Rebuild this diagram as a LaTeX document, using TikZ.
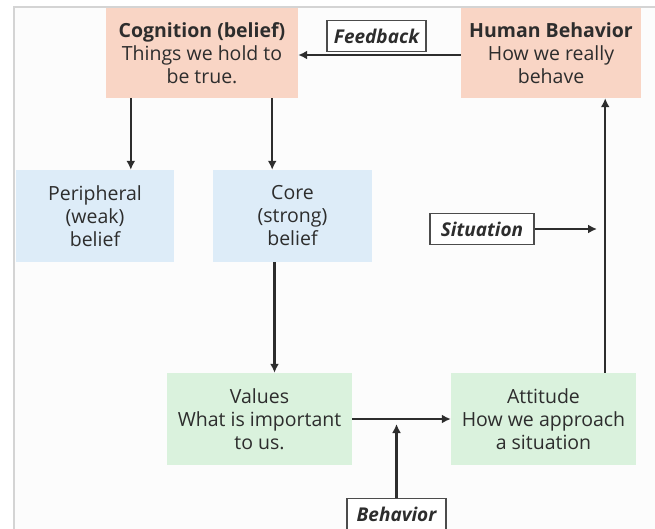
\documentclass[tikz,border=0pt]{standalone}
\usepackage{fontspec}
\setmainfont{Open Sans}
\usepackage{xcolor}
\definecolor{peach}{RGB}{249,213,197}
\definecolor{paleblue}{RGB}{221,236,248}
\definecolor{palegreen}{RGB}{218,242,221}
\definecolor{ink}{RGB}{45,45,45}
\definecolor{framegray}{RGB}{212,212,212}
\definecolor{paper}{RGB}{252,252,252}
\usetikzlibrary{arrows.meta}

\begin{document}
\begin{tikzpicture}[x=1pt, y=-1pt,
    box/.style={align=center, text=ink, inner sep=0pt, font=\fontsize{19.5}{23}\selectfont},
    peachbox/.style={box, fill=peach, minimum height=90pt},
    bluebox/.style={box, fill=paleblue, minimum width=158pt, minimum height=92pt},
    greenbox/.style={box, fill=palegreen, minimum width=185pt, minimum height=92pt},
    tag/.style={draw=ink!85, fill=white, line width=1.4pt, text=ink, inner sep=0pt, minimum width=99pt, minimum height=31pt, font=\fontsize{19}{21}\selectfont\bfseries\itshape},
    arr/.style={draw=ink, line width=2.1pt, -{Latex[length=9pt,width=9pt]}}]
            \useasboundingbox (0,0) rectangle (655,529);
            % Page frame
            \fill[white] (0,0) rectangle (655,529);
            \fill[paper] (14,7) rectangle (655,529);
            \draw[framegray, line width=2pt] (14,529) -- (14,7) -- (655,7);

            % Top row
            \node[peachbox, minimum width=192pt] (cog) at (202,53) {\textbf{Cognition (belief)}\\Things we hold to\\be true.};
            \node[peachbox, minimum width=180pt] (hum) at (551,53) {\textbf{Human Behavior}\\How we really\\behave};

            % Beliefs
            \node[bluebox] (per) at (95,216) {Peripheral\\(weak)\\belief};
            \node[bluebox, minimum width=159pt] (core) at (292.5,216) {Core\\(strong)\\belief};

            % Values and attitude
            \node[greenbox] (val) at (259.5,419) {Values\\What is important\\to us.};
            \node[greenbox] (att) at (543.5,419) {Attitude\\How we approach\\a situation};

            % Labels
            \node[tag] (fb) at (376.5,36) {Feedback};
            \node[tag, minimum width=104pt] (sit) at (482,229) {Situation};
            \node[tag] (beh) at (396.5,514) {Behavior};

            % Arrows
            \coordinate (p1) at ([xshift=25pt]cog.south west);
            \coordinate (p2) at ([xshift=-26pt]cog.south east);
            \coordinate (p3) at ([xshift=-18pt]core.south);
            \coordinate (p4) at ([xshift=-31pt]att.north east);
            \coordinate (p5) at (beh.north |- 0,424);
            \coordinate (p6) at (597,229);

            \draw[arr] ([yshift=-2pt]hum.west) -- ([yshift=-2pt]cog.east);
            \draw[arr] (p1) -- (p1 |- per.north);
            \draw[arr] (p2) -- (p2 |- core.north);
            \draw[arr] (p3) -- (p3 |- val.north);
            \draw[arr] (val.east) -- (att.west);
            \draw[arr] (beh.north) -- (p5);
            \draw[arr] (p4) -- (p4 |- hum.south);
            \draw[arr] (sit.east) -- (p6);
        \end{tikzpicture}
\end{document}
